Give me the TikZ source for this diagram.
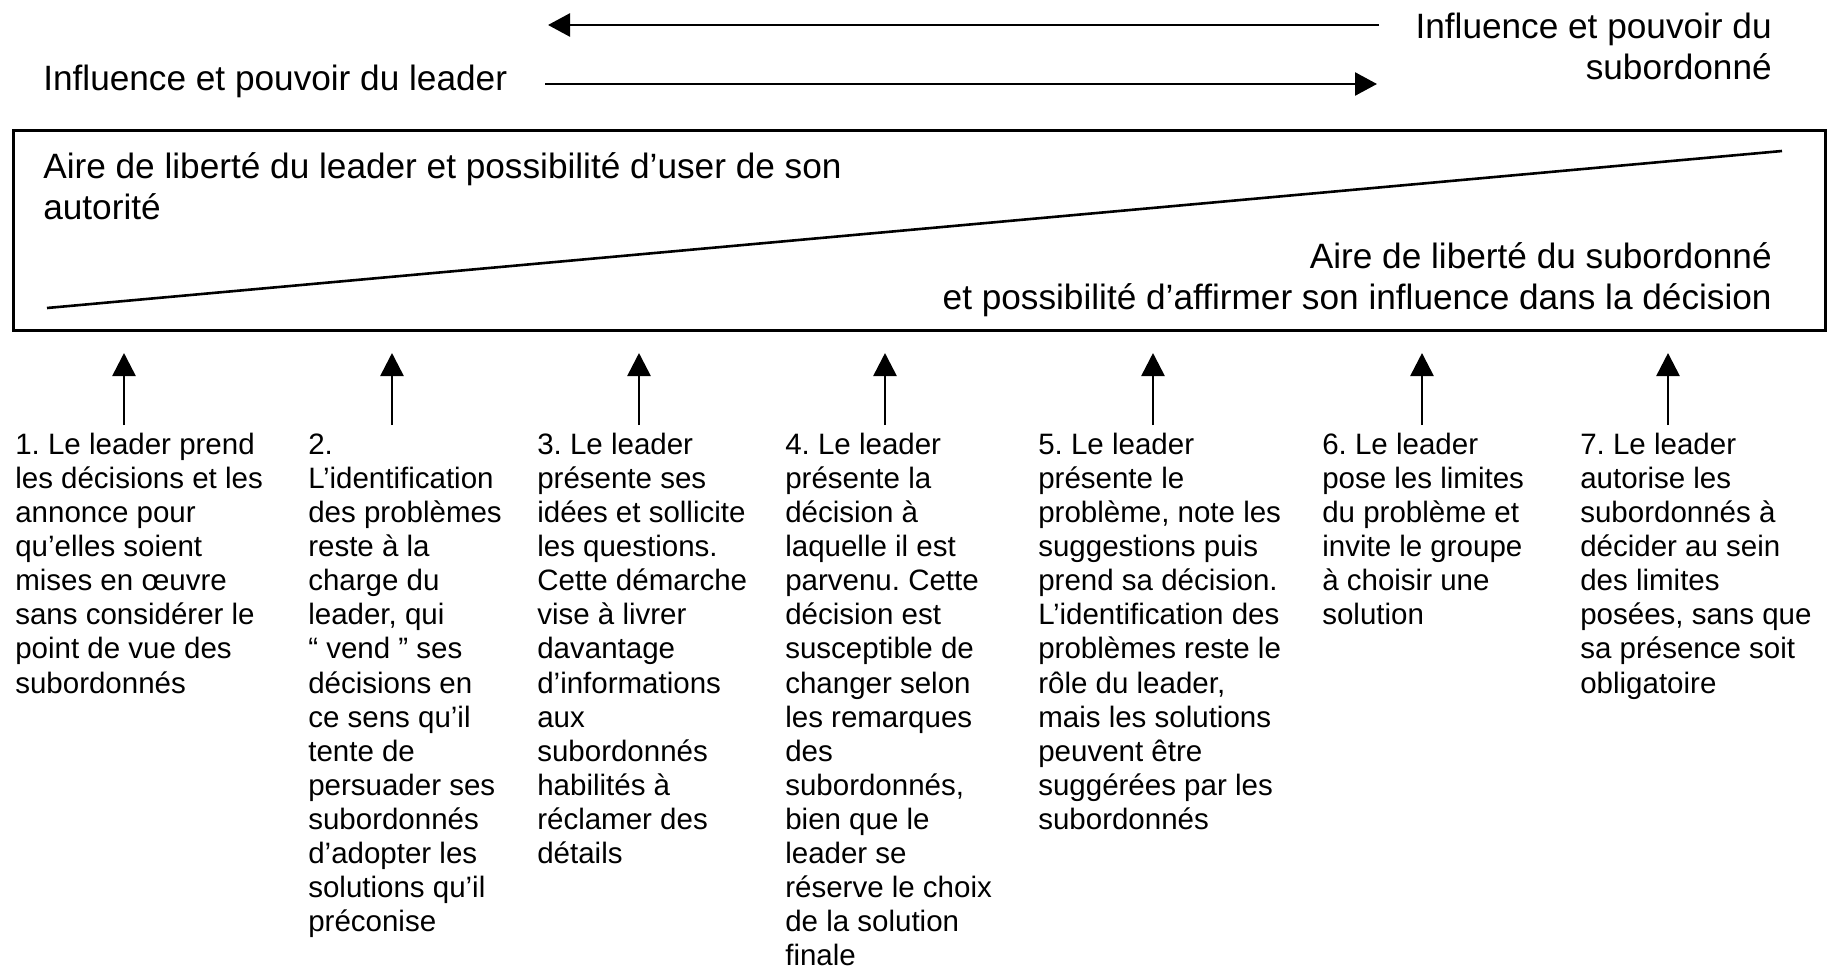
\documentclass[tikz,border=0pt]{standalone}
\usepackage{fontspec}
\setmainfont{Liberation Sans}
\usetikzlibrary{arrows.meta}
\frenchspacing
% invisible struts fixing the first baseline of multi-line labels
\newcommand\bigfirst{\rule{0pt}{30bp}}
\newcommand\colfirst{\rule{0pt}{26bp}}
\begin{document}
\begin{tikzpicture}[x=1bp,y=-1bp,
  line width=2.6bp,
  bigtext/.style={inner sep=0pt, font=\fontsize{35.2bp}{40.8bp}\selectfont},
  coltext/.style={inner sep=0pt, anchor=north west, align=left,
                  font=\fontsize{29.5bp}{34.1bp}\selectfont},
  flow/.style={-{Triangle[length=22bp,width=23bp]}},
  stepup/.style={-{Triangle[length=23bp,width=23bp]}},
]
\useasboundingbox (0,0) rectangle (1830,969);

% --- influence arrows at the top ---
\node[bigtext, anchor=base west] (leadlab) at (42,90) {Influence et pouvoir du leader};
\node[bigtext, anchor=north east, align=right] (sublab) at (1773,7)
  {\bigfirst Influence et pouvoir du\\subordonné};
\coordinate (subS) at (1379,25);
\coordinate (subE) at (548,25);
\coordinate (leadS) at (545,84);
\coordinate (leadE) at (1377,84);
\draw[flow] (subS) -- (subE);
\draw[flow] (leadS) -- (leadE);

% --- area of freedom ---
\node[draw, inner sep=0pt, minimum width=1812bp, minimum height=200bp,
      anchor=north west] (area) at (12,129) {};
\coordinate (diagA) at (47,308);
\coordinate (diagB) at (1782,151);
\draw (diagA) -- (diagB);
\node[bigtext, anchor=north west, align=left] (leadarea) at (42,147)
  {\bigfirst Aire de liberté du leader et possibilité d’user de son\\autorité};
\node[bigtext, anchor=north east, align=right] (subarea) at (1773,237)
  {\bigfirst Aire de liberté du subordonné\\et possibilité d’affirmer son influence dans la décision};

% --- the seven behaviours ---
\node[coltext] (c1) at (14,427) {\colfirst 1. Le leader prend\\les décisions et les\\annonce pour\\qu’elles soient\\mises en œuvre\\sans considérer le\\point de vue des\\subordonnés};
\node[coltext] (c2) at (307,427) {\colfirst 2.\\L’identification\\des problèmes\\reste à la\\charge du\\leader, qui\\“ vend ” ses\\décisions en\\ce sens qu’il\\tente de\\persuader ses\\subordonnés\\d’adopter les\\solutions qu’il\\préconise};
\node[coltext] (c3) at (536,427) {\colfirst 3. Le leader\\présente ses\\idées et sollicite\\les questions.\\Cette démarche\\vise à livrer\\davantage\\d’informations\\aux\\subordonnés\\habilités à\\réclamer des\\détails};
\node[coltext] (c4) at (784,427) {\colfirst 4. Le leader\\présente la\\décision à\\laquelle il est\\parvenu. Cette\\décision est\\susceptible de\\changer selon\\les remarques\\des\\subordonnés,\\bien que le\\leader se\\réserve le choix\\de la solution\\finale};
\node[coltext] (c5) at (1037,427) {\colfirst 5. Le leader\\présente le\\problème, note les\\suggestions puis\\prend sa décision.\\L’identification des\\problèmes reste le\\rôle du leader,\\mais les solutions\\peuvent être\\suggérées par les\\subordonnés};
\node[coltext] (c6) at (1321,427) {\colfirst 6. Le leader\\pose les limites\\du problème et\\invite le groupe\\à choisir une\\solution};
\node[coltext] (c7) at (1579,427) {\colfirst 7. Le leader\\autorise les\\subordonnés à\\décider au sein\\des limites\\posées, sans que\\sa présence soit\\obligatoire};

% pointers from each behaviour up to the area
\foreach \i/\x in {1/124,2/392,3/639,4/885,5/1153,6/1422,7/1668} {
  \coordinate (base\i) at (\x,425);
  \coordinate (tip\i) at (\x,353);
  \draw[stepup] (base\i) -- (tip\i);
}
\end{tikzpicture}
\end{document}
